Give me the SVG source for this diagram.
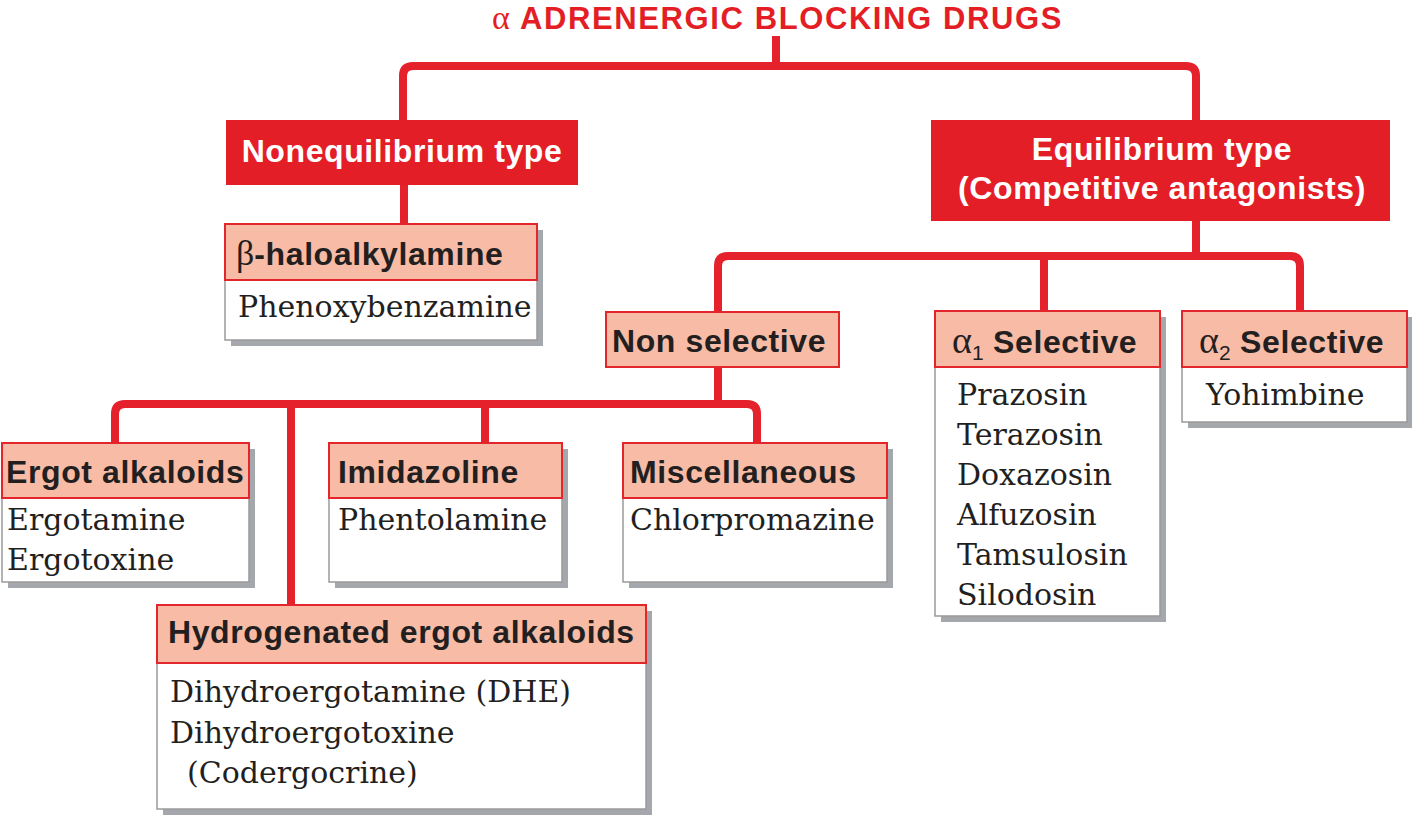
<svg xmlns="http://www.w3.org/2000/svg" width="1412" height="815" viewBox="0 0 1412 815">
<style>
.bg{fill:#ffffff}
.con{fill:none;stroke:#e5222b;stroke-width:8}
.shadow{fill:#a4a7ab}
.body{fill:#ffffff;stroke:#9a9a9a;stroke-width:1.5}
.head{fill:#f7bba6;stroke:#e2262b;stroke-width:2}
.red{fill:#e41e26}
.hd{font-family:"Liberation Sans",Arial,sans-serif;font-weight:bold;font-size:32px;letter-spacing:0.6px;fill:#231f20}
.wt{font-family:"Liberation Sans",Arial,sans-serif;font-weight:bold;font-size:32px;letter-spacing:0.6px;fill:#ffffff}
.gr{font-family:"Liberation Serif","Times New Roman",serif;font-weight:normal;letter-spacing:0}
.sub{font-family:"Liberation Sans",Arial,sans-serif;font-weight:normal;font-size:21px;letter-spacing:0}
.bd{font-family:"DejaVu Serif",serif;font-size:30px;fill:#231f20}
.title{font-family:"Liberation Sans",Arial,sans-serif;font-weight:bold;font-size:31px;letter-spacing:1.6px;fill:#e31e24}
</style>
<rect class="bg" x="0" y="0" width="1412" height="815"/>
<g id="title"><text class="title" x="492" y="29"><tspan class="gr" font-size="34">α</tspan> ADRENERGIC BLOCKING DRUGS</text></g>
<g id="connectors">
<path class="con" d="M776,36 V66"/>
<path class="con" d="M403,120 V76 Q403,66 413,66 H1186 Q1196,66 1196,76 V120"/>
<path class="con" d="M404,185 V224"/>
<path class="con" d="M1196,221 V256"/>
<path class="con" d="M718,312 V266 Q718,256 728,256 H1290 Q1300,256 1300,266 V311"/>
<path class="con" d="M1044,256 V311"/>
<path class="con" d="M718,367 V404"/>
<path class="con" d="M115,443 V414 Q115,404 125,404 H747 Q757,404 757,414 V443"/>
<path class="con" d="M291,404 V605"/>
<path class="con" d="M485,404 V443"/>
</g>
<g id="nonequilibrium">
<rect class="red" x="226" y="120" width="352" height="65"/>
<text class="wt" x="402" y="162" text-anchor="middle">Nonequilibrium type</text>
</g>
<g id="equilibrium">
<rect class="red" x="931" y="120" width="459" height="101"/>
<text class="wt" x="1162" y="160" text-anchor="middle">Equilibrium type</text>
<text class="wt" x="1162" y="199" text-anchor="middle">(Competitive antagonists)</text>
</g>
<g id="haloalkylamine">
<rect class="shadow" x="231" y="230" width="312" height="116"/>
<rect class="body" x="225" y="224" width="312" height="116"/>
<rect class="head" x="225" y="224" width="312" height="56"/>
<text class="hd" x="236" y="265"><tspan class="gr" font-size="36">β</tspan>-haloalkylamine</text>
<text class="bd" x="238" y="317">Phenoxybenzamine</text>
</g>
<g id="nonselective">
<rect class="head" x="606" y="312" width="233" height="55"/>
<text class="hd" x="612" y="352">Non selective</text>
</g>
<g id="alpha1">
<rect class="shadow" x="941" y="317" width="225" height="305"/>
<rect class="body" x="935" y="311" width="225" height="305"/>
<rect class="head" x="935" y="311" width="225" height="56"/>
<text class="hd" x="952" y="353"><tspan class="gr" font-size="38">α</tspan><tspan class="sub" dy="7">1</tspan><tspan dy="-7"> Selective</tspan></text>
<text class="bd" x="957" y="405">Prazosin</text>
<text class="bd" x="957" y="445">Terazosin</text>
<text class="bd" x="957" y="485">Doxazosin</text>
<text class="bd" x="957" y="525">Alfuzosin</text>
<text class="bd" x="957" y="565">Tamsulosin</text>
<text class="bd" x="957" y="605">Silodosin</text>
</g>
<g id="alpha2">
<rect class="shadow" x="1188" y="317" width="224" height="111"/>
<rect class="body" x="1182" y="311" width="225" height="111"/>
<rect class="head" x="1182" y="311" width="225" height="56"/>
<text class="hd" x="1199" y="353"><tspan class="gr" font-size="38">α</tspan><tspan class="sub" dy="7">2</tspan><tspan dy="-7"> Selective</tspan></text>
<text class="bd" x="1206" y="405">Yohimbine</text>
</g>
<g id="ergot">
<rect class="shadow" x="8" y="449" width="247" height="139"/>
<rect class="body" x="2" y="443" width="247" height="139"/>
<rect class="head" x="2" y="443" width="247" height="55"/>
<text class="hd" x="6" y="483">Ergot alkaloids</text>
<text class="bd" x="7" y="530">Ergotamine</text>
<text class="bd" x="7" y="570">Ergotoxine</text>
</g>
<g id="imidazoline">
<rect class="shadow" x="335" y="449" width="233" height="139"/>
<rect class="body" x="329" y="443" width="233" height="139"/>
<rect class="head" x="329" y="443" width="233" height="55"/>
<text class="hd" x="338" y="483">Imidazoline</text>
<text class="bd" x="338" y="530">Phentolamine</text>
</g>
<g id="miscellaneous">
<rect class="shadow" x="629" y="449" width="264" height="139"/>
<rect class="body" x="623" y="443" width="264" height="139"/>
<rect class="head" x="623" y="443" width="264" height="55"/>
<text class="hd" x="630" y="483">Miscellaneous</text>
<text class="bd" x="630" y="530">Chlorpromazine</text>
</g>
<g id="hydrogenated">
<rect class="shadow" x="163" y="611" width="489" height="204"/>
<rect class="body" x="157" y="605" width="489" height="204"/>
<rect class="head" x="157" y="605" width="489" height="58"/>
<text class="hd" x="168" y="643">Hydrogenated ergot alkaloids</text>
<text class="bd" x="170" y="702">Dihydroergotamine (DHE)</text>
<text class="bd" x="170" y="743">Dihydroergotoxine</text>
<text class="bd" x="187" y="783">(Codergocrine)</text>
</g>
</svg>
